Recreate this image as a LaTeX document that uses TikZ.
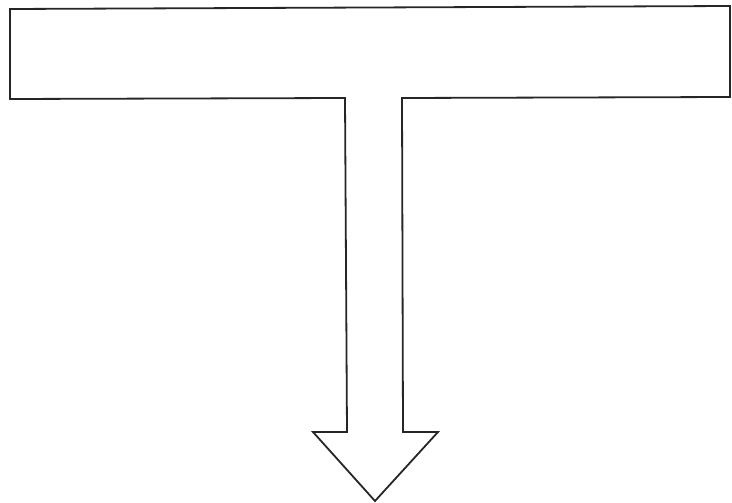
\documentclass[tikz,border=0pt]{standalone}
\usepackage{tikz}
\usetikzlibrary{calc}

\begin{document}
\begin{tikzpicture}[x=1pt,y=-1pt,outline/.style={draw=black!85,line width=1.8pt,line join=miter}]
  \useasboundingbox (0,0) rectangle (732,503);
  % T-shaped bar with arrowhead
  \draw[outline] (10,9) -- (730,6) -- (730,97) -- (402,98) -- (403,432)
    -- (438,432) -- (375,501) -- (313,432) -- (347,432) -- (345,98)
    -- (10,99) -- cycle;
\end{tikzpicture}
\end{document}
